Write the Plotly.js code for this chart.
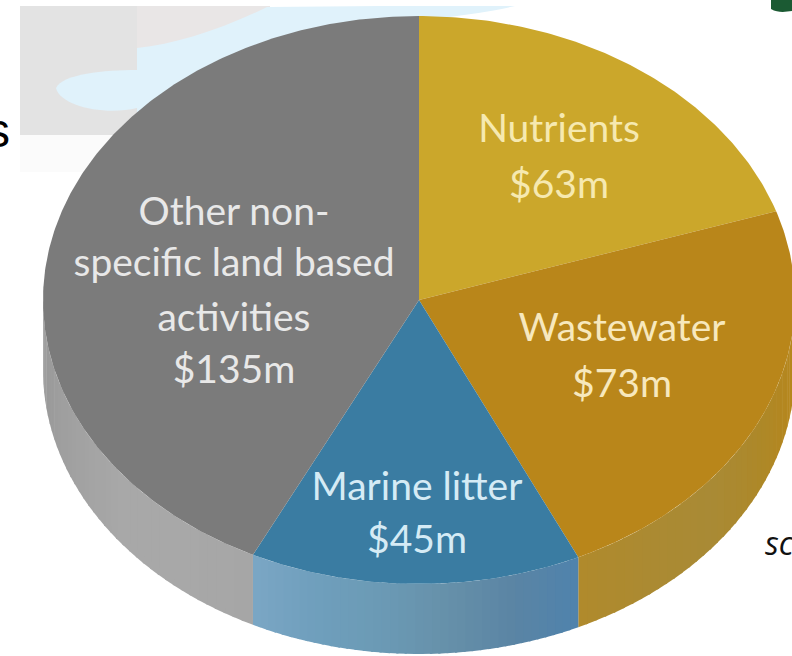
<!DOCTYPE html>
<html>
<head>
<meta charset="utf-8">
<script src="https://cdn.plot.ly/plotly-3.0.1.min.js"></script>
<style>html,body{margin:0;padding:0;background:#fff;overflow:hidden}#chart{width:792px;height:656px}</style>
</head>
<body>
<div id="chart"></div>
<script>
// Spending by pressure category, in millions of dollars
const categories = ['Nutrients', 'Wastewater', 'Marine litter', 'Other non-specific land based activities'];
const values = [63, 73, 45, 135];
const amounts = ['$63m', '$73m', '$45m', '$135m'];
const nameLines = [['Nutrients'], ['Wastewater'], ['Marine litter'], ['Other non-', 'specific land based', 'activities']];

// Slice styling
const topColors = ['#cba72b', '#b9861a', '#3a7ca2', '#7b7b7b'];
const textColors = ['#f6e9b0', '#f7e8bd', '#d5ebf5', '#e8e8e8'];
// Wall shading stops, listed clockwise along the rim
const wallRamps = [
  ['#b9861a', '#b4871f', '#ad8829', '#a98a35', '#ab8a32', '#b08a2c'],
  ['#4f83ac', '#5a84a4', '#6690a9', '#6b9ab5', '#6f9fbc', '#7ba6c4'],
  ['#a6a6a6', '#a8a8a8', '#a8a8a8', '#a2a2a2', '#9c9c9c', '#969696']
];

// Disc geometry in page pixels; the axes below map one unit to one pixel
const CX = 419, CY = 300, RX = 376, RY = 284, DEPTH = 70, WALL_BANDS = 40;
const total = values.reduce((a, b) => a + b, 0);
const toAngle = v => v / total * 2 * Math.PI;   // clockwise from 12 o'clock
const rimX = a => CX + RX * Math.sin(a);
const rimY = a => CY - RY * Math.cos(a);
const arc = (a0, a1) => {
  const n = Math.max(2, Math.ceil(Math.abs(a1 - a0) / 0.01));
  return Array.from({length: n + 1}, (_, i) => a0 + (a1 - a0) * i / n);
};
const hexToRgb = h => [1, 3, 5].map(i => parseInt(h.slice(i, i + 2), 16));
const rampColor = (ramp, t) => {
  const p = t * (ramp.length - 1), i = Math.min(Math.floor(p), ramp.length - 2), f = p - i;
  const a = hexToRgb(ramp[i]), b = hexToRgb(ramp[i + 1]);
  return 'rgb(' + a.map((c, k) => Math.round(c + (b[k] - c) * f)).join(',') + ')';
};

const traces = [];
const fillTrace = (name, x, y, color) => ({
  type: 'scatter', mode: 'lines', name, x, y, fill: 'toself', fillcolor: color,
  line: {width: 0, color}, hoverinfo: 'skip', showlegend: false
});

// Cylinder wall: only the part of each slice facing the viewer is drawn
let cum = 0;
const starts = values.map(v => { const s = cum; cum += v; return s; });
const wallStart = Math.PI / 2, wallEnd = 3 * Math.PI / 2;
[1, 2, 3].forEach((idx, k) => {
  const a0 = Math.max(toAngle(starts[idx]), wallStart);
  const a1 = Math.min(toAngle(starts[idx] + values[idx]), wallEnd);
  for (let j = 0; j < WALL_BANDS; j++) {
    const s0 = a0 + (a1 - a0) * j / WALL_BANDS;
    const s1 = a0 + (a1 - a0) * (j + 1) / WALL_BANDS + (j < WALL_BANDS - 1 ? 0.006 : 0);
    const front = arc(s0, s1), back = arc(s1, s0);
    traces.push(fillTrace(categories[idx],
      front.map(rimX).concat(back.map(rimX)),
      front.map(a => rimY(a) + DEPTH).concat(back.map(rimY)),
      rampColor(wallRamps[k], (j + 0.5) / WALL_BANDS)));
  }
});

// Top face
values.forEach((v, i) => {
  const pts = arc(toAngle(starts[i]), toAngle(starts[i] + v));
  traces.push(fillTrace(categories[i],
    [CX].concat(pts.map(rimX), [CX]),
    [CY].concat(pts.map(rimY), [CY]),
    topColors[i]));
});

// Slice captions, one point per line so the leading stays wide
const captionCentres = [[559, [132, 188]], [622, [331, 387]], [417, [490, 543]], [234, [215, 266, 321, 373]]];
const capX = [], capY = [], capText = [], capColor = [];
categories.forEach((c, i) => {
  nameLines[i].concat(amounts[i]).forEach((line, j) => {
    capX.push(captionCentres[i][0]);
    capY.push(captionCentres[i][1][j]);
    capText.push(line);
    capColor.push(textColors[i]);
  });
});
traces.push({
  type: 'scatter', mode: 'text', x: capX, y: capY, text: capText, textposition: 'middle center',
  textfont: {family: 'Lato, "Open Sans", sans-serif', size: 39, color: capColor},
  hoverinfo: 'skip', showlegend: false
});

// Fragments of the surrounding page text
traces.push({
  type: 'scatter', mode: 'text', x: [10], y: [135], text: ['s'], textposition: 'middle left', cliponaxis: false,
  textfont: {family: '"Liberation Sans", sans-serif', size: 48, color: '#000'},
  hoverinfo: 'skip', showlegend: false
});
traces.push({
  type: 'scatter', mode: 'text', x: [765], y: [547], text: ['<i>sc</i>'], textposition: 'middle right', cliponaxis: false,
  textfont: {family: '"Open Sans", sans-serif', size: 32, color: '#111'},
  hoverinfo: 'skip', showlegend: false
});

const bgShape = (path, color) => ({type: 'path', xref: 'x', yref: 'y', layer: 'below', path, fillcolor: color, line: {width: 0}});
const shapes = [
  bgShape('M20 135 L115 135 L100 172 L20 172 Z', '#fbfbfb'),
  bgShape('M137 6 L270 6 L270 60 L137 135 Z', '#e9e6e6'),
  bgShape('M20 6 L137 6 L137 135 L20 135 Z', '#e3e3e3'),
  bgShape('M137 48 C175 44 220 30 267 7 L380 6 L515 6 C490 12 470 14 450 17 L137 140 Z', '#e0f2fb'),
  bgShape('M137 70 C105 70 62 74 56 88 C60 106 105 116 137 108 Z', '#e0f2fb'),
  bgShape('M771 0 L771 9 C778 13 785 12 792 11 L792 0 Z', '#1b5a33')
];

const layout = {
  width: 792, height: 656,
  margin: {l: 0, r: 0, t: 0, b: 0},
  paper_bgcolor: '#fff', plot_bgcolor: '#fff',
  xaxis: {range: [0, 792], visible: false, fixedrange: true},
  yaxis: {range: [656, 0], visible: false, fixedrange: true},
  showlegend: false, shapes
};

Plotly.newPlot('chart', traces, layout, {displayModeBar: false, staticPlot: true});
</script>
</body>
</html>
